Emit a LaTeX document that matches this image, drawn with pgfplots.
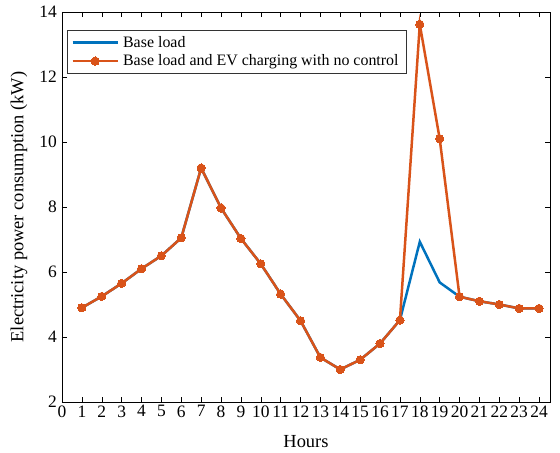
\documentclass[border=0pt]{standalone}
\usepackage{pgfplots}
\pgfplotsset{compat=1.18}
\usepackage{fontspec}
\setmainfont{Liberation Serif}
\definecolor{mblue}{rgb}{0,0.447,0.741}
\definecolor{morange}{rgb}{0.85,0.325,0.098}
\begin{document}
\begin{tikzpicture}
\begin{axis}[
  scale only axis, width=488bp, height=390bp,
  xmin=0, xmax=24.55, ymin=2, ymax=14,
  xtick={0,1,...,24}, ytick={2,4,...,14},
  tick align=inside, major tick length=5bp,
  tick style={black, line width=0.5pt},
  axis line style={black, line width=0.6pt},
  ticklabel style={font=\fontsize{17.5}{19}\selectfont},
  /pgf/number format/assume math mode=true,
  xticklabel style={inner xsep=0pt, yshift=0bp},
  yticklabel style={inner xsep=0pt, xshift=-5bp},
  xlabel={Hours}, ylabel={Electricity power consumption (kW)},
  label style={font=\fontsize{18.5}{20}\selectfont},
  xlabel style={at={(axis description cs:0.5,0)}, anchor=base, yshift=-45bp},
  ylabel style={at={(axis description cs:0,0.5)}, anchor=center, yshift=43bp},
  legend style={at={(rel axis cs:0,1)}, anchor=north west, xshift=5bp, yshift=-18bp,
    font=\fontsize{16}{17}\selectfont, draw=black!80, line width=0.6pt,
    inner xsep=4pt, inner ysep=4pt, row sep=2pt, cells={anchor=west},
    nodes={inner xsep=4pt}},
  legend image code/.code={\draw[#1] (0.05cm,0cm) -- (1.65cm,0cm);
    \path[#1] plot coordinates {(0.85cm,0cm)};},
  legend cell align=left,
]
\addplot[mblue, line width=2.5pt, mark=none] coordinates {
(1,4.9)(2,5.25)(3,5.65)(4,6.1)(5,6.5)(6,7.05)(7,9.2)(8,7.97)(9,7.03)(10,6.25)(11,5.32)(12,4.5)(13,3.37)(14,3.0)(15,3.3)(16,3.8)(17,4.52)(18,6.93)(19,5.68)(20,5.24)(21,5.1)(22,5.0)(23,4.88)(24,4.88)};
\addlegendentry{Base load}
\addplot[morange, line width=2.5pt, mark=*, mark size=4.1bp, mark options={solid, fill=morange, draw=morange, line width=0pt}] coordinates {
(1,4.9)(2,5.25)(3,5.65)(4,6.1)(5,6.5)(6,7.05)(7,9.2)(8,7.97)(9,7.03)(10,6.25)(11,5.32)(12,4.5)(13,3.37)(14,3.0)(15,3.3)(16,3.8)(17,4.52)(18,13.62)(19,10.1)(20,5.24)(21,5.1)(22,5.0)(23,4.88)(24,4.88)};
\addlegendentry{Base load and EV charging with no control}
\end{axis}
\pgfresetboundingbox
\path (current axis.south west) ++(-62bp,-51bp) coordinate (bl);
\path (current axis.north east) ++(10bp,12bp) coordinate (tr);
\path[use as bounding box] (bl) rectangle (tr);
\end{tikzpicture}
\end{document}
